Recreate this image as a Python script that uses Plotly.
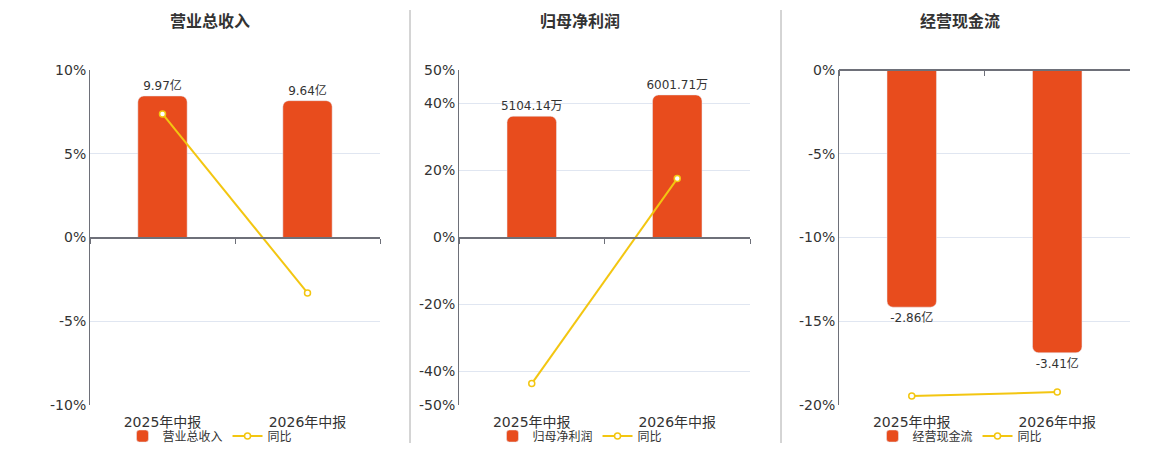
import plotly.graph_objects as go

periods = ["2025年中报", "2026年中报"]
titles = ["营业总收入", "归母净利润", "经营现金流"]
revenue = [9.97, 9.64]            # 亿
revenue_yoy = [7.38, -3.31]       # %
profit = [5104.14, 6001.71]       # 万
profit_yoy = [-43.6, 17.58]       # %
cashflow = [-2.86, -3.41]         # 亿
cashflow_yoy = [-19.46, -19.23]   # %
units = ["亿", "万", "亿"]
yoy_ticks = [
    [-10, -5, 0, 5, 10],
    [-50, -40, -20, 0, 20, 40, 50],
    [-20, -15, -10, -5, 0],
]

bars = [revenue, profit, cashflow]
yoys = [revenue_yoy, profit_yoy, cashflow_yoy]
bar_ranges = [[-11.8, 11.8], [-7050, 7050], [-4.04, 0]]

BAR = "#E84C1D"
LINE = "#F3C611"
AXIS = "#6E7079"
GRID = "#E0E6F1"
FONT = "DejaVu Sans, Noto Sans CJK SC, sans-serif"

W, H = 1160, 450
plot_x = [(90, 380), (459, 750), (839, 1130)]
centers = [210, 580, 960]
y_dom = [1 - 405 / H, 1 - 70 / H]


def n(k):
    return "" if k == 1 else str(k)


fig = go.Figure()
layout = {}
for i in range(3):
    xa, xb = 2 * i + 1, 2 * i + 2
    dom = [plot_x[i][0] / W, plot_x[i][1] / W]
    leg = "legend" + n(i + 1)

    fig.add_trace(go.Bar(
        x=periods, y=bars[i], name=titles[i],
        xaxis="x" + n(xa), yaxis="y" + n(xa),
        marker=dict(color=BAR, cornerradius=6), width=0.34,
        text=[f"{v:.2f}{units[i]}" for v in bars[i]],
        textposition="outside", cliponaxis=False, constraintext="none",
        textfont=dict(size=12, color="#333333", family=FONT),
        legend=leg,
    ))
    fig.add_trace(go.Scatter(
        x=periods, y=yoys[i], name="同比", mode="lines+markers",
        xaxis="x" + n(xb), yaxis="y" + n(xb),
        line=dict(color=LINE, width=2),
        marker=dict(size=6, color="white", line=dict(color=LINE, width=1.5)),
        cliponaxis=False, legend=leg,
    ))

    lo, hi = bar_ranges[i]
    zero_frac = (0 - lo) / (hi - lo)
    zero_pos = y_dom[0] + zero_frac * (y_dom[1] - y_dom[0])
    ticks = yoy_ticks[i]

    layout["xaxis" + n(xa)] = dict(
        domain=dom, anchor="y" + n(xa), type="category", range=[-0.5, 1.5],
        showline=False, showgrid=False, ticks="", automargin=False,
        ticklabelstandoff=7,
        tickfont=dict(size=14, color="#333333", family=FONT),
    )
    layout["yaxis" + n(xa)] = dict(
        domain=y_dom, anchor="x" + n(xa), range=bar_ranges[i],
        visible=False, showgrid=False, zeroline=False, automargin=False,
    )
    layout["xaxis" + n(xb)] = dict(
        overlaying="x" + n(xa), anchor="free", position=zero_pos,
        type="category", range=[-0.5, 1.5], automargin=False,
        showline=True, linecolor=AXIS, linewidth=2,
        ticks="outside", tickson="boundaries", ticklen=5, tickcolor=AXIS,
        showticklabels=False, showgrid=False,
    )
    layout["yaxis" + n(xb)] = dict(
        overlaying="y" + n(xa), anchor="x" + n(xa), side="left",
        range=[ticks[0], ticks[-1]], tickmode="array", automargin=False,
        tickvals=ticks, ticktext=[f"{t}%" for t in ticks],
        showline=True, linecolor=AXIS, linewidth=1,
        showgrid=True, gridcolor=GRID, zeroline=False,
        tickfont=dict(size=14, color="#333333", family=FONT),
    )
    layout[leg] = dict(
        x=centers[i] / W, y=1 - 436 / H, xanchor="center", yanchor="middle",
        orientation="h", font=dict(size=12, color="#333333", family=FONT),
        bgcolor="rgba(0,0,0,0)", tracegroupgap=0,
    )

fig.update_layout(**layout)

for i, t in enumerate(titles):
    fig.add_annotation(
        text=f"<b>{t}</b>", x=centers[i] / W, y=1 - 22 / H,
        xref="paper", yref="paper", showarrow=False,
        xanchor="center", yanchor="middle",
        font=dict(size=16, color="#333333", family=FONT),
    )

for xd in (410, 781):
    fig.add_shape(
        type="line", xref="paper", yref="paper",
        x0=xd / W, x1=xd / W, y0=1 - 443 / H, y1=1 - 10 / H,
        line=dict(color="#AAAAAA", width=1),
    )

fig.update_layout(
    width=W, height=H,
    margin=dict(l=0, r=0, t=0, b=0, autoexpand=False),
    paper_bgcolor="white", plot_bgcolor="white",
    barmode="group", hovermode=False,
    font=dict(family=FONT),
)

fig.write_html(
    "out.html",
    config={"displayModeBar": False},
    post_script="document.body.style.margin='0';document.body.style.overflow='hidden';",
)
